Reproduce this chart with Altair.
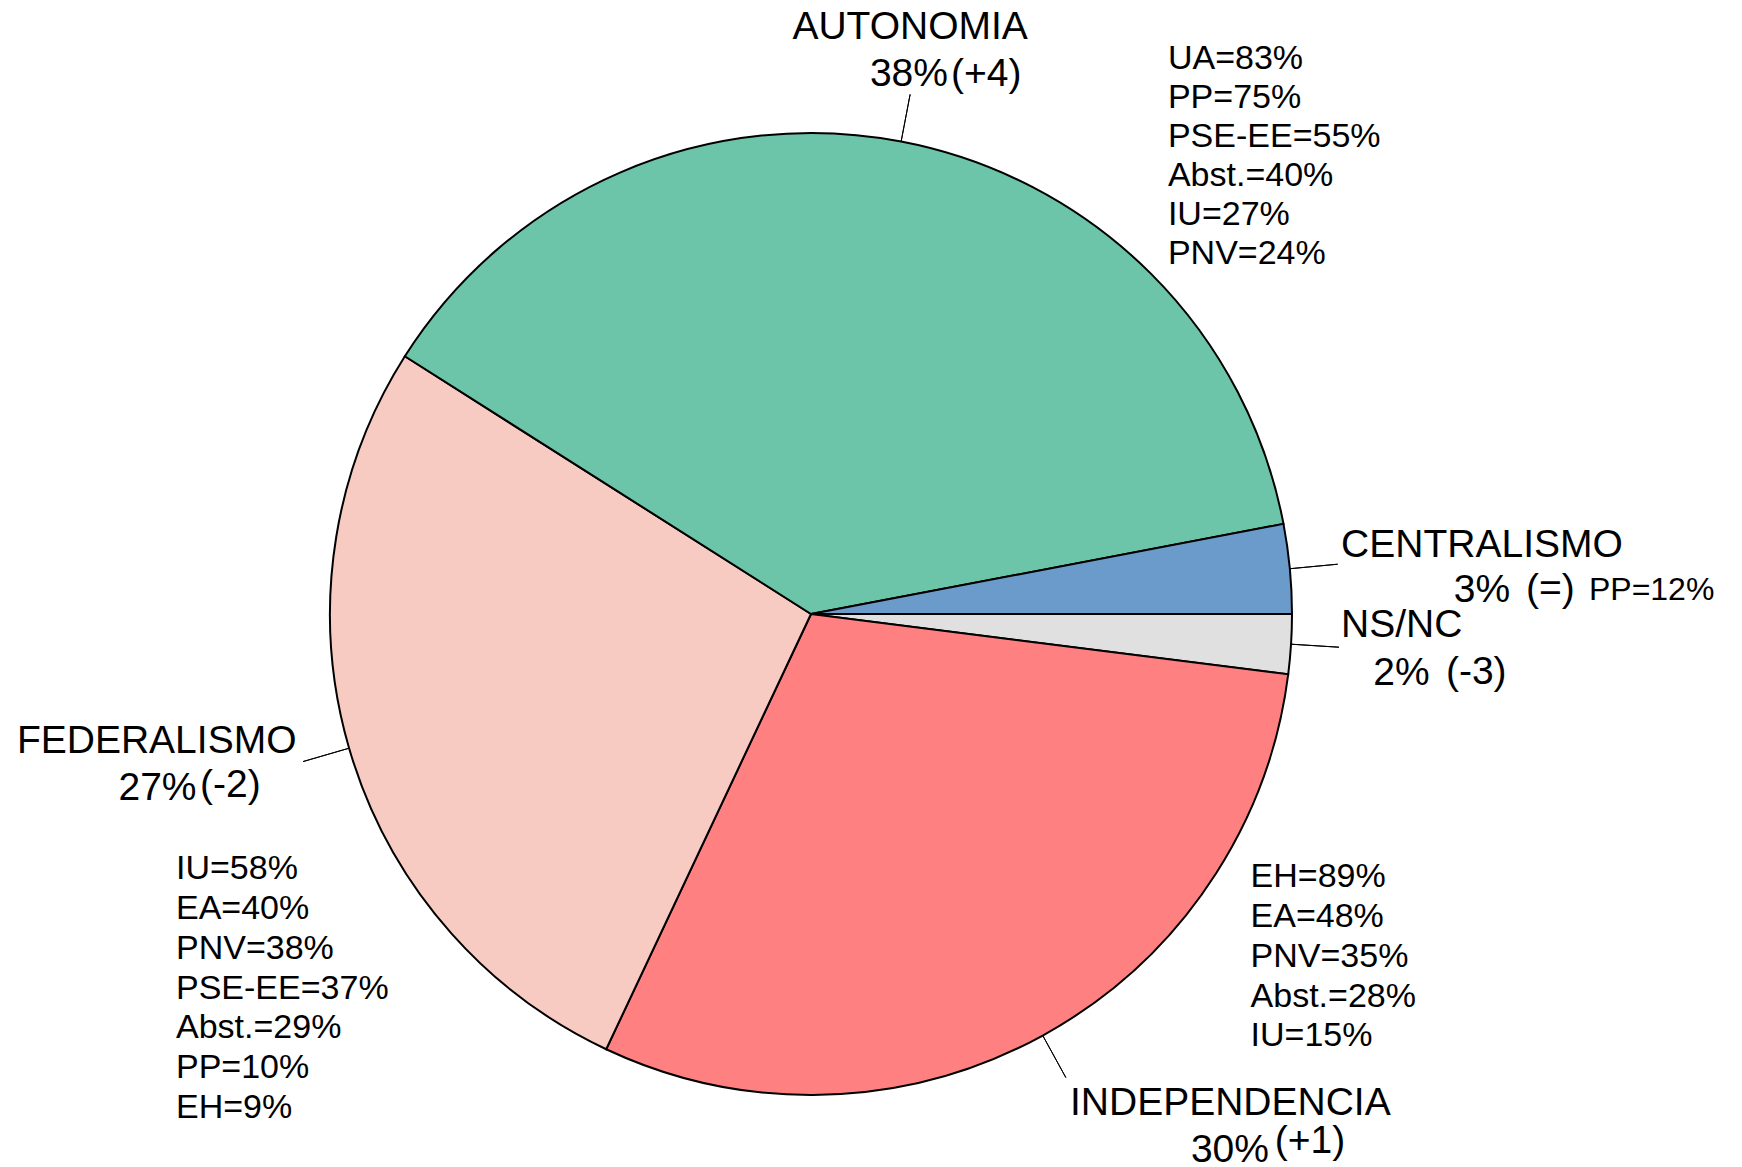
import math
import altair as alt
import pandas as pd

# ---- data ----
categories = ["CENTRALISMO", "AUTONOMIA", "FEDERALISMO", "INDEPENDENCIA", "NS/NC"]
values = [3, 38, 27, 30, 2]
changes = ["(=)", "(+4)", "(-2)", "(+1)", "(-3)"]
colors = ["#6A9BCB", "#6CC5A8", "#F7CBC2", "#FF8080", "#E0E0E0"]

autonomia_parties = ["UA", "PP", "PSE-EE", "Abst.", "IU", "PNV"]
autonomia_values = [83, 75, 55, 40, 27, 24]
federalismo_parties = ["IU", "EA", "PNV", "PSE-EE", "Abst.", "PP", "EH"]
federalismo_values = [58, 40, 38, 37, 29, 10, 9]
independencia_parties = ["EH", "EA", "PNV", "Abst.", "IU"]
independencia_values = [89, 48, 35, 28, 15]
centralismo_parties = ["PP"]
centralismo_values = [12]

# clockwise drawing order starting at 3 o'clock (equivalent to counter-clockwise from CENTRALISMO)
draw_order = ["NS/NC", "INDEPENDENCIA", "FEDERALISMO", "AUTONOMIA", "CENTRALISMO"]

rows = []
cum = 0
for cat in draw_order:
    i = categories.index(cat)
    v = values[i]
    rows.append({"category": cat, "value": v, "start": cum, "end": cum + v,
                 "mid": cum + v / 2, "pct": f"{v}%", "change": changes[i]})
    cum += v
df = pd.DataFrame(rows)


def block(names, vals):
    return "\n".join(f"{n}={v}%" for n, v in zip(names, vals))


party_text = {
    "AUTONOMIA": block(autonomia_parties, autonomia_values),
    "FEDERALISMO": block(federalismo_parties, federalismo_values),
    "INDEPENDENCIA": block(independencia_parties, independencia_values),
    "CENTRALISMO": block(centralismo_parties, centralismo_values),
}
df["party"] = df["category"].map(party_text).fillna("")

# ---- geometry / style ----
CX, CY = 803, 606
R = 481
R_LABEL = 529
FONT = "Liberation Sans"
theta_scale = alt.Scale(domain=[0, 100], range=[math.pi / 2, math.pi / 2 + 2 * math.pi])

base = alt.Chart(df)

pie = base.mark_arc(stroke="black", strokeWidth=2).encode(
    theta=alt.Theta("start:Q", scale=theta_scale),
    theta2=alt.Theta2("end:Q"),
    radius=alt.value(R),
    color=alt.Color("category:N", scale=alt.Scale(domain=categories, range=colors), legend=None),
    x=alt.value(CX), y=alt.value(CY),
)

leaders = base.mark_arc(stroke="black", strokeWidth=1, fillOpacity=0, filled=False).encode(
    theta=alt.Theta("mid:Q", scale=theta_scale),
    theta2=alt.Theta2("mid:Q"),
    radius=alt.value(R),
    radius2=alt.value(R_LABEL),
    x=alt.value(CX), y=alt.value(CY),
)

# label pieces: (category, field, dx, dy, align, fontSize, lineHeight)
pieces = [
    ("CENTRALISMO", "category", 144.3, -7.5, "center", 39, None),
    ("CENTRALISMO", "pct", 144.3, 37.5, "center", 39, None),
    ("CENTRALISMO", "change", 188.3, 37, "left", 39, None),
    ("CENTRALISMO", "party", 251.3, 35.8, "left", 32, None),
    ("AUTONOMIA", "category", 0, -55.1, "center", 39, None),
    ("AUTONOMIA", "pct", -1.2, -8.4, "center", 39, None),
    ("AUTONOMIA", "change", 40.8, -8.4, "left", 39, None),
    ("AUTONOMIA", "party", 257.8, -25.4, "left", 34, 39),
    ("FEDERALISMO", "category", -146.3, -8.6, "center", 39, None),
    ("FEDERALISMO", "pct", -145.5, 38.4, "center", 39, None),
    ("FEDERALISMO", "change", -103, 35.4, "left", 39, None),
    ("FEDERALISMO", "party", -127, 117.7, "left", 34, 39.8),
    ("INDEPENDENCIA", "category", 164.5, 37.4, "center", 39, None),
    ("INDEPENDENCIA", "pct", 164.1, 84.4, "center", 39, None),
    ("INDEPENDENCIA", "change", 209, 75.4, "left", 39, None),
    ("INDEPENDENCIA", "party", 184.7, -190.3, "left", 34, 39.8),
    ("NS/NC", "category", 62.7, -10.2, "center", 39, None),
    ("NS/NC", "pct", 62.5, 37.8, "center", 39, None),
    ("NS/NC", "change", 107, 36.3, "left", 39, None),
]

layers = [pie, leaders]
for cat, field, dx, dy, align, size, lh in pieces:
    kw = dict(dx=dx, dy=dy, align=align, baseline="alphabetic", fontSize=size,
              font=FONT, color="black", lineBreak="\n")
    if lh is not None:
        kw["lineHeight"] = lh
    layers.append(
        base.transform_filter(alt.datum.category == cat).mark_text(**kw).encode(
            theta=alt.Theta("mid:Q", scale=theta_scale),
            radius=alt.value(R_LABEL),
            text=alt.Text(f"{field}:N"),
            x=alt.value(CX), y=alt.value(CY),
        )
    )

chart = (
    alt.layer(*layers)
    .properties(
        width=1726, height=1159,
        autosize=alt.AutoSizeParams(type="none"),
        padding=0,
    )
    .configure(background="white")
    .configure_view(strokeWidth=0, stroke="transparent")
)

chart.save("out.html", embed_options={"renderer": "svg", "actions": False})
